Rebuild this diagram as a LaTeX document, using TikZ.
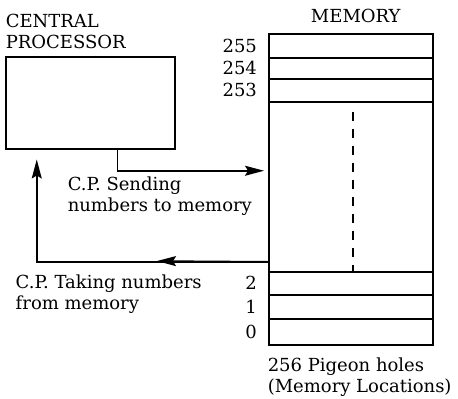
\documentclass[tikz,border=0pt]{standalone}
\usepackage{fontspec}
\setmainfont{DejaVu Serif}
\usetikzlibrary{positioning,arrows.meta}

\newcommand{\lbl}{\fontsize{18}{21.5}\selectfont}

\begin{document}
\begin{tikzpicture}[x=1pt,y=-1pt,
  line width=1.5pt,
  box/.style={draw,inner sep=0pt,anchor=north west},
  cell/.style={draw,inner sep=0pt,minimum width=164pt,anchor=north west,
    label={[font=\lbl,label distance=7pt]left:#1}},
  txt/.style={align=left,inner sep=0pt,font=\lbl},
  arr/.style={-{Stealth[length=19pt,width=10pt,inset=3pt]}}
]
  \useasboundingbox (0,0) rectangle (458,399);

  % central processor
  \node[box,minimum width=169pt,minimum height=92pt] (cpu) at (5,56) {};
  \node[txt,above=6pt of cpu.north west,anchor=south west] (cpulbl)
    {CENTRAL\\PROCESSOR};

  % memory
  \node[box,minimum width=164pt,minimum height=311pt] (mem) at (268,33) {};
  \node[txt,above=9pt of mem.north,xshift=5pt] (memlbl) {MEMORY};
  \node[cell={255},minimum height=24pt] (c255) at (268,33) {};
  \node[cell={254},minimum height=21pt] (c254) at (268,57) {};
  \node[cell={253},minimum height=23pt] (c253) at (268,78) {};
  \node[cell={2},minimum height=23pt] (c2) at (268,271) {};
  \node[cell={1},minimum height=24pt] (c1) at (268,294) {};
  \node[cell={0},minimum height=26pt] (c0) at (268,318) {};
  \draw[dash pattern=on 9pt off 8pt] (c253.south -| 353,0) ++(0,9) -- (c2.north -| 353,0);

  % sending
  \draw[arr,shorten >=4pt] ([xshift=27pt]cpu.south) |- ([yshift=18.5pt]mem.west);
  \node[txt,anchor=north west] (sendlbl) at (67,176) {C.P. Sending\\numbers to memory};

  % taking
  \coordinate (ret) at ([yshift=-72.5pt]mem.west);
  \coordinate (retmid) at (157,261);
  \draw[arr] (ret) -- (retmid);
  \draw[arr,shorten >=10pt] (ret) -| ([xshift=-53.5pt]cpu.south);
  \node[txt,anchor=north west] (takelbl) at (15,274) {C.P. Taking numbers\\from memory};

  \node[txt,anchor=north west] (holes) at (267,357) {256 Pigeon holes\\(Memory Locations)};
\end{tikzpicture}
\end{document}
